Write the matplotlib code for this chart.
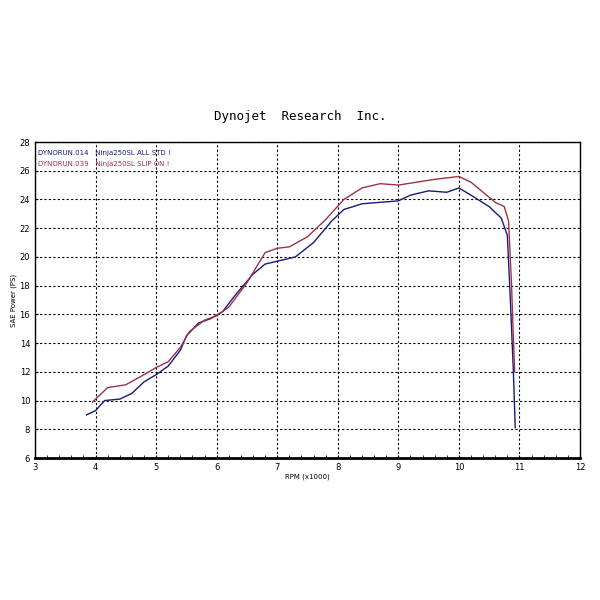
import matplotlib
matplotlib.use('Agg')
import matplotlib.pyplot as plt

# run 014 (stock)
rpm_std = [3.85, 4.0, 4.15, 4.4, 4.6, 4.8, 5.0, 5.2, 5.4, 5.5, 5.7, 5.9, 6.1, 6.3, 6.6, 6.8, 7.0, 7.3,
           7.6, 7.9, 8.1, 8.4, 8.7, 9.0, 9.2, 9.5, 9.8, 10.0, 10.2, 10.5, 10.7, 10.8, 10.85, 10.9, 10.93]
pwr_std = [9.0, 9.3, 10.0, 10.1, 10.5, 11.3, 11.8, 12.4, 13.5, 14.5, 15.4, 15.7, 16.2, 17.3, 18.8, 19.5,
           19.7, 20.0, 21.0, 22.5, 23.3, 23.7, 23.8, 23.9, 24.3, 24.6, 24.5, 24.8, 24.3, 23.5, 22.7, 21.5,
           17.0, 12.0, 8.1]
# run 039 (slip-on)
rpm_slip = [3.95, 4.2, 4.5, 4.8, 5.0, 5.2, 5.4, 5.55, 5.8, 6.0, 6.2, 6.5, 6.8, 7.0, 7.2, 7.5, 7.8, 8.1,
            8.4, 8.7, 9.0, 9.3, 9.6, 10.0, 10.2, 10.4, 10.6, 10.75, 10.82, 10.87, 10.92]
pwr_slip = [9.9, 10.9, 11.1, 11.8, 12.3, 12.7, 13.7, 14.8, 15.6, 15.9, 16.5, 18.2, 20.3, 20.6, 20.7, 21.4,
            22.6, 24.0, 24.8, 25.1, 25.0, 25.2, 25.4, 25.6, 25.2, 24.5, 23.8, 23.5, 22.5, 18.0, 12.0]

fig = plt.figure(figsize=(6, 6), dpi=100)
ax = fig.add_axes([35/600, 142/600, 545/600, 316/600])
ax.plot(rpm_std, pwr_std, color='#1a1a7a', lw=1)
ax.plot(rpm_slip, pwr_slip, color='#a0304a', lw=1)
ax.set_xlim(3, 12)
ax.set_ylim(6, 28)
ax.set_xticks(range(3, 13))
ax.set_yticks(range(6, 29, 2))
ax.set_xticks([x / 5 for x in range(15, 61)], minor=True)
ax.tick_params(labelsize=6, length=2, direction='in')
ax.tick_params(which='minor', length=2, direction='in')
ax.grid(True, linestyle=(0, (2, 2)), color='black', lw=0.8)
for s in ax.spines.values():
    s.set_linewidth(1)
ax.spines['bottom'].set_linewidth(2)
ax.set_xlabel('RPM (x1000)', fontsize=5, labelpad=1)
ax.set_ylabel('SAE Power (PS)', fontsize=5, labelpad=2)
ax.text(0.005, 0.965, 'DYNORUN.014   Ninja250SL ALL STD !', transform=ax.transAxes,
        fontsize=5, color='#1a1a7a', va='center')
ax.text(0.005, 0.93, 'DYNORUN.039   Ninja250SL SLIP ON !', transform=ax.transAxes,
        fontsize=5, color='#a0304a', va='center')
fig.text(0.5, 0.8, 'Dynojet  Research  Inc.', ha='center', fontsize=9, family='DejaVu Sans Mono')
fig.savefig('out.png')
